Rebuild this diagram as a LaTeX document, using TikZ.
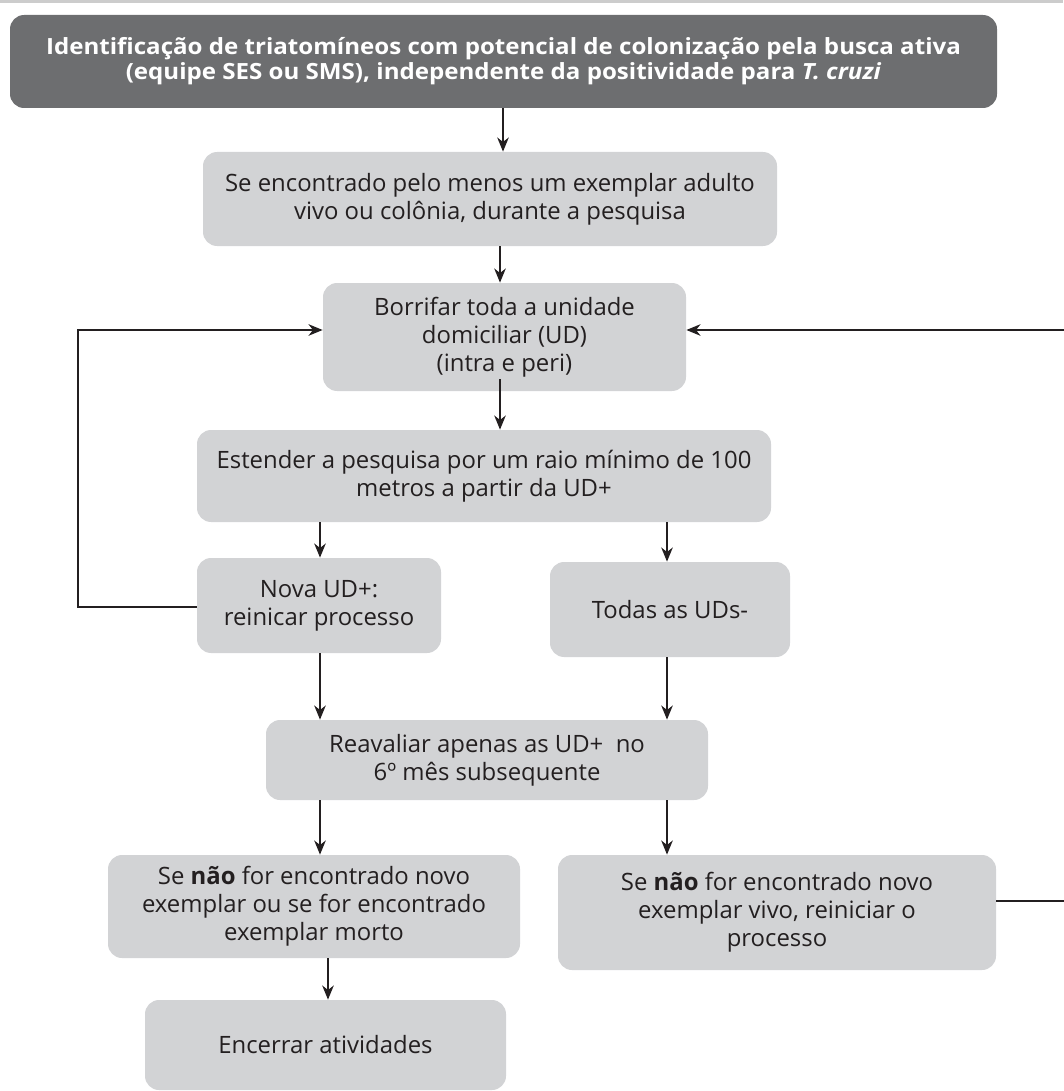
\documentclass[tikz,border=0pt]{standalone}
\usepackage{fontspec}
\setmainfont{Open Sans}
\newfontfamily\headfont{Open Sans}[FakeStretch=1.08]
\usetikzlibrary{arrows.meta}
\definecolor{boxgray}{HTML}{D2D3D5}
\definecolor{headgray}{HTML}{6D6E70}
\definecolor{ink}{HTML}{231F20}
\tikzset{
  stepbox/.style={fill=boxgray, rounded corners=8pt, inner sep=0pt, align=center,
    text=ink, font=\fontsize{13.6}{16}\selectfont},
  headbox/.style={fill=headgray, rounded corners=8pt, inner sep=0pt, align=center,
    text=white, font=\headfont\bfseries\fontsize{12.7}{14.2}\selectfont},
  arr/.style={draw=ink, line width=1.3pt, -{Stealth[length=8pt,width=6.5pt,inset=2.5pt]}},
}
\begin{document}
\begin{tikzpicture}[x=0.02cm, y=-0.02cm]
\useasboundingbox (0,0) rectangle (1063,1091);
% thin rule along the top edge
\draw[gray!40, line width=2pt] (0,1) -- (1063,1);

% boxes (centres and sizes in drawing units)
\node[headbox, minimum width=987*0.02cm, minimum height=93*0.02cm] (top) at (503.5,61.5)
  {Identificação de triatomíneos com potencial de colonização pela busca ativa\\
   (equipe SES ou SMS), independente da positividade para \textit{T. cruzi}};
\node[stepbox, minimum width=574*0.02cm, minimum height=94*0.02cm] (found) at (490,199)
  {Se encontrado pelo menos um exemplar adulto\\vivo ou colônia, durante a pesquisa};
\node[stepbox, minimum width=363*0.02cm, minimum height=108*0.02cm] (spray) at (504.5,337)
  {Borrifar toda a unidade\\domiciliar (UD)\\(intra e peri)};
\node[stepbox, minimum width=574*0.02cm, minimum height=92*0.02cm] (extend) at (484,476)
  {Estender a pesquisa por um raio mínimo de 100\\metros a partir da UD+};
\node[stepbox, minimum width=244*0.02cm, minimum height=95*0.02cm] (newud) at (319,605.5)
  {Nova UD+:\\reinicar processo};
\node[stepbox, minimum width=240*0.02cm, minimum height=95*0.02cm] (allneg) at (670,609.5)
  {Todas as UDs-};
\node[stepbox, minimum width=442*0.02cm, minimum height=80*0.02cm] (review) at (487,760)
  {Reavaliar apenas as UD+ ~no\\6º mês subsequente};
\node[stepbox, minimum width=412*0.02cm, minimum height=103*0.02cm] (nonew) at (314,906.5)
  {Se \textbf{não} for encontrado novo\\exemplar ou se for encontrado\\exemplar morto};
\node[stepbox, minimum width=438*0.02cm, minimum height=115*0.02cm] (restart) at (777,912.5)
  {Se \textbf{não} for encontrado novo\\exemplar vivo, reiniciar o\\processo};
\node[stepbox, minimum width=361*0.02cm, minimum height=90*0.02cm] (close) at (325.5,1045)
  {Encerrar atividades};

% vertical flow
\draw[arr] (top.south -| 503,0) -- (found.north -| 503,0);
\draw[arr] (found.south -| 500,0) -- (spray.north -| 500,0);
\draw[arr] ([yshift=7pt]spray.south -| 500,0) -- (extend.north -| 500,0);
\draw[arr] (extend.south -| 320,0) -- (newud.north -| 320,0);
\draw[arr] (extend.south -| 667,0) -- (allneg.north -| 667,0);
\draw[arr] (newud.south -| 320,0) -- (review.north -| 320,0);
\draw[arr] (allneg.south -| 667,0) -- (review.north -| 667,0);
\draw[arr] (review.south -| 320,0) -- (nonew.north -| 320,0);
\draw[arr] (review.south -| 667,0) -- (restart.north -| 667,0);
\draw[arr] (nonew.south -| 328,0) -- (close.north -| 328,0);

% feedback loops into the spraying step
\coordinate (leftrail) at (78,607);
\coordinate (rightrail) at (1068,901);
\draw[arr] (newud.west |- leftrail) -- (leftrail) |- (spray.west |- 0,330);
\draw[arr] (restart.east |- rightrail) -- (rightrail) |- (spray.east |- 0,330);
\end{tikzpicture}
\end{document}
